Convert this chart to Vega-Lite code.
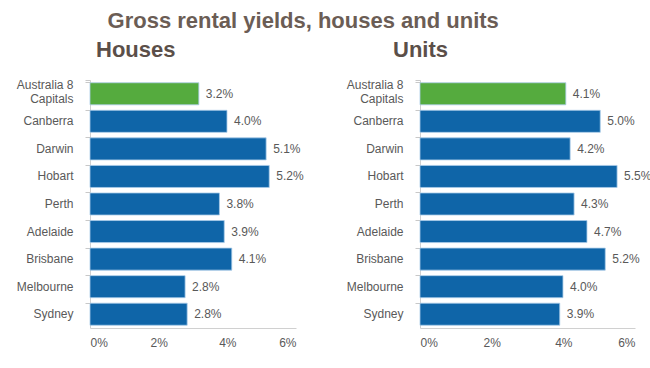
{
  "$schema": "https://vega.github.io/schema/vega-lite/v6.json",
  "background": "white",
  "padding": {"left": 12, "top": 10, "right": 5, "bottom": 5},
  "title": {"text": "Gross rental yields, houses and units", "fontSize": 22, "fontWeight": "bold", "font": "Liberation Sans", "color": "#6b5d55", "anchor": "middle", "dx": -29, "offset": 6},
  "datasets": {
    "houses": [
      {"city": "Australia 8 Capitals", "group": "total", "value": 3.17, "label": "3.2%"},
      {"city": "Canberra", "group": "city", "value": 3.99, "label": "4.0%"},
      {"city": "Darwin", "group": "city", "value": 5.13, "label": "5.1%"},
      {"city": "Hobart", "group": "city", "value": 5.22, "label": "5.2%"},
      {"city": "Perth", "group": "city", "value": 3.77, "label": "3.8%"},
      {"city": "Adelaide", "group": "city", "value": 3.91, "label": "3.9%"},
      {"city": "Brisbane", "group": "city", "value": 4.13, "label": "4.1%"},
      {"city": "Melbourne", "group": "city", "value": 2.77, "label": "2.8%"},
      {"city": "Sydney", "group": "city", "value": 2.83, "label": "2.8%"}
    ],
    "units": [
      {"city": "Australia 8 Capitals", "group": "total", "value": 4.07, "label": "4.1%"},
      {"city": "Canberra", "group": "city", "value": 5.03, "label": "5.0%"},
      {"city": "Darwin", "group": "city", "value": 4.19, "label": "4.2%"},
      {"city": "Hobart", "group": "city", "value": 5.5, "label": "5.5%"},
      {"city": "Perth", "group": "city", "value": 4.3, "label": "4.3%"},
      {"city": "Adelaide", "group": "city", "value": 4.66, "label": "4.7%"},
      {"city": "Brisbane", "group": "city", "value": 5.17, "label": "5.2%"},
      {"city": "Melbourne", "group": "city", "value": 3.99, "label": "4.0%"},
      {"city": "Sydney", "group": "city", "value": 3.9, "label": "3.9%"}
    ]
  },
  "spacing": 38,
  "hconcat": [
    {
      "data": {"name": "houses"},
      "width": 206,
      "height": 248,
      "title": {"text": "Houses", "anchor": "start", "frame": "group", "dx": 6, "fontSize": 22, "fontWeight": "bold", "font": "Liberation Sans", "color": "#5b4f49", "offset": 12},
      "encoding": {
        "y": {"field": "city", "type": "nominal", "sort": null, "title": null,
          "scale": {"paddingInner": 0.2, "paddingOuter": 0.1},
          "axis": {"bandPosition": 0, "tickExtra": true, "tickSize": 5, "tickColor": "#c8c8c8", "domainColor": "#d0d0d0", "labelPadding": 12,
            "labelOffset": {"condition": {"test": "datum.value == 'Australia 8 Capitals'", "value": -9}, "value": 0},
            "labelExpr": "datum.value == 'Australia 8 Capitals' ? ['Australia  8', 'Capitals  '] : datum.label"}},
        "x": {"field": "value", "type": "quantitative", "title": null,
          "scale": {"domain": [0, 6]},
          "axis": {"values": [0, 2, 4, 6], "labelExpr": "datum.value + '%'", "grid": false, "ticks": false, "domainColor": "#d0d0d0", "labelPadding": 9}}
      },
      "layer": [
        {"mark": {"type": "bar", "stroke": "#a9cbe8", "strokeWidth": 0.8},
          "encoding": {"color": {"field": "group", "type": "nominal", "scale": {"domain": ["total", "city"], "range": ["#55ab3e", "#0f65a8"]}, "legend": null}}},
        {"mark": {"type": "text", "align": "left", "dx": 7, "font": "Liberation Sans", "fontSize": 12, "color": "#595959"},
          "encoding": {"text": {"field": "label"}}}
      ]
    },
    {
      "data": {"name": "units"},
      "width": 215,
      "height": 248,
      "title": {"text": "Units", "anchor": "start", "frame": "group", "dx": -27, "fontSize": 22, "fontWeight": "bold", "font": "Liberation Sans", "color": "#5b4f49", "offset": 12},
      "encoding": {
        "y": {"field": "city", "type": "nominal", "sort": null, "title": null,
          "scale": {"paddingInner": 0.2, "paddingOuter": 0.1},
          "axis": {"bandPosition": 0, "tickExtra": true, "tickSize": 5, "tickColor": "#c8c8c8", "domainColor": "#d0d0d0", "labelPadding": 12,
            "labelOffset": {"condition": {"test": "datum.value == 'Australia 8 Capitals'", "value": -9}, "value": 0},
            "labelExpr": "datum.value == 'Australia 8 Capitals' ? ['Australia  8', 'Capitals  '] : datum.label"}},
        "x": {"field": "value", "type": "quantitative", "title": null,
          "scale": {"domain": [0, 6]},
          "axis": {"values": [0, 2, 4, 6], "labelExpr": "datum.value + '%'", "grid": false, "ticks": false, "domainColor": "#d0d0d0", "labelPadding": 9}}
      },
      "layer": [
        {"mark": {"type": "bar", "stroke": "#a9cbe8", "strokeWidth": 0.8},
          "encoding": {"color": {"field": "group", "type": "nominal", "scale": {"domain": ["total", "city"], "range": ["#55ab3e", "#0f65a8"]}, "legend": null}}},
        {"mark": {"type": "text", "align": "left", "dx": 7, "font": "Liberation Sans", "fontSize": 12, "color": "#595959"},
          "encoding": {"text": {"field": "label"}}}
      ]
    }
  ],
  "resolve": {"scale": {"color": "independent"}},
  "config": {
    "view": {"stroke": null},
    "axis": {"labelFont": "Liberation Sans", "labelFontSize": 12, "labelColor": "#595959"}
  }
}
